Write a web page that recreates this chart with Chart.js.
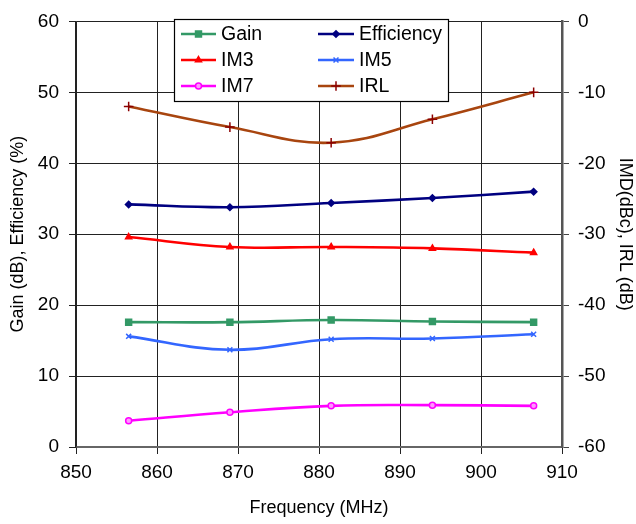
<!DOCTYPE html>
<html>
<head>
<meta charset="utf-8">
<script src="https://cdn.jsdelivr.net/npm/chart.js@4/dist/chart.umd.min.js"></script>
<style>
  html, body { margin: 0; padding: 0; background: #fff; }
  #wrap { width: 636px; height: 524px; }
</style>
</head>
<body>
<div id="wrap"><canvas id="c" width="636" height="524"></canvas></div>
<script>
// ---- data ----
const freq = [856.5, 869, 881.5, 894, 906.5];
const gain = [17.6, 17.6, 17.9, 17.7, 17.6];
const efficiency = [34.2, 33.8, 34.4, 35.1, 36.0];
const im3 = [-30.4, -31.8, -31.8, -32.0, -32.6];
const im5 = [-44.4, -46.3, -44.8, -44.7, -44.1];
const im7 = [-56.3, -55.1, -54.2, -54.1, -54.2];
const irl = [-12.0, -14.9, -17.1, -13.8, -10.0];
const xRange = [850, 910];
const leftRange = [0, 60];
const rightRange = [-60, 0];
const seriesNames = ['Gain', 'Efficiency', 'IM3', 'IM5', 'IM7', 'IRL'];

const FONT = "'Liberation Sans', Arial, sans-serif";
const pts = arr => arr.map((v, i) => ({ x: freq[i], y: v }));

function ds(label, data, axis, color, pointStyle, radius, pointColor, fill) {
  return {
    label, data: pts(data), yAxisID: axis,
    borderColor: color, backgroundColor: fill || pointColor || color,
    pointBorderColor: pointColor || color,
    pointBackgroundColor: fill || pointColor || color,
    pointStyle, pointRadius: radius, pointBorderWidth: 1.5,
    borderWidth: 2.6, tension: 0.4, fill: false
  };
}

const datasets = [
  ds(seriesNames[0], gain, 'y', '#339966', 'rect', 4.2, '#339966'),
  ds(seriesNames[1], efficiency, 'y', '#000080', 'rectRot', 3.2, '#000080'),
  ds(seriesNames[2], im3, 'y2', '#FF0000', 'triangle', 3.5, '#FF0000'),
  ds(seriesNames[3], im5, 'y2', '#3366FF', 'crossRot', 3.5, '#3366FF'),
  ds(seriesNames[4], im7, 'y2', '#FF00FF', 'circle', 3, '#FF00FF', '#FF99FF'),
  ds(seriesNames[5], irl, 'y2', '#A8450F', 'cross', 4.8, '#8B0000')
];

new Chart(document.getElementById('c'), {
  type: 'line',
  data: { datasets },
  options: {
    responsive: false,
    animation: false,
    layout: { padding: { top: 13, left: 0, right: 0, bottom: 0 } },
    plugins: { legend: { display: false }, tooltip: { enabled: false } },
    scales: {
      x: {
        type: 'linear', min: xRange[0], max: xRange[1],
        ticks: { stepSize: 10, color: '#000', font: { family: FONT, size: 19 }, padding: 7 },
        grid: { color: '#222', lineWidth: 1, tickLength: 7 },
        border: { color: '#666', width: 2 },
        title: { display: true, text: 'Frequency (MHz)', color: '#000', font: { family: FONT, size: 18 }, padding: { top: 0, bottom: 5 } },
        afterFit: s => { s.height = 77; }
      },
      y: {
        position: 'left', min: leftRange[0], max: leftRange[1],
        ticks: { stepSize: 10, color: '#000', font: { family: FONT, size: 19 }, padding: 10 },
        grid: { color: '#222', lineWidth: 1, tickLength: 7 },
        border: { color: '#222', width: 1.5 },
        title: { display: true, text: 'Gain (dB), Efficiency (%)', color: '#000', font: { family: FONT, size: 18 }, padding: { top: 7, bottom: 0 } },
        afterFit: s => { s.width = 76; }
      },
      y2: {
        position: 'right', min: rightRange[0], max: rightRange[1],
        ticks: { stepSize: 10, color: '#000', font: { family: FONT, size: 19 }, padding: 9 },
        grid: { drawOnChartArea: false, color: '#444', tickLength: 7 },
        border: { color: '#555', width: 2.5 },
        title: { display: true, text: 'IMD(dBc), IRL (dB)', color: '#000', font: { family: FONT, size: 18 }, padding: { top: 0, bottom: 0 } },
        afterFit: s => { s.width = 74; }
      }
    }
  },
  plugins: [{
    id: 'legendBox',
    afterDraw(chart) {
      const ctx = chart.ctx;
      ctx.save();
      const L = 174, T = 19, R = 448, B = 101;
      ctx.fillStyle = '#fff';
      ctx.fillRect(L, T, R - L, B - T);
      ctx.strokeStyle = '#000';
      ctx.lineWidth = 1.2;
      ctx.strokeRect(L + 0.5, T + 0.5, R - L, B - T);
      const rows = [34, 60, 86];
      const cols = [{ x0: 181, x1: 216, tx: 221 }, { x0: 318, x1: 354, tx: 359 }];
      chart.data.datasets.forEach((d, i) => {
        const c = cols[i % 2], y = rows[Math.floor(i / 2)];
        ctx.strokeStyle = d.borderColor;
        ctx.lineWidth = 2.6;
        ctx.beginPath(); ctx.moveTo(c.x0, y); ctx.lineTo(c.x1, y); ctx.stroke();
        ctx.fillStyle = d.pointBackgroundColor;
        ctx.strokeStyle = d.pointBorderColor;
        ctx.lineWidth = d.pointBorderWidth;
        Chart.helpers.drawPoint(ctx, {
          pointStyle: d.pointStyle, radius: d.pointRadius, rotation: 0,
          borderWidth: d.pointBorderWidth
        }, (c.x0 + c.x1) / 2, y);
        ctx.fillStyle = '#000';
        ctx.font = '19.5px ' + FONT;
        ctx.textBaseline = 'middle';
        ctx.textAlign = 'left';
        ctx.fillText(d.label, c.tx, y + 1);
      });
      ctx.restore();
    }
  }]
});
</script>
</body>
</html>
